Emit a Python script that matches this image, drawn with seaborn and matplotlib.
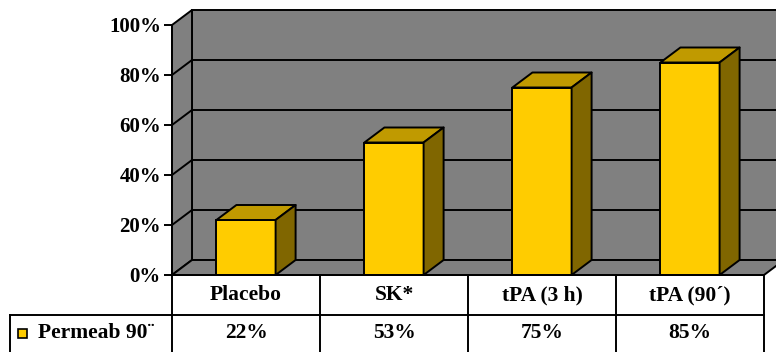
import matplotlib
matplotlib.use("Agg")
import matplotlib.pyplot as plt
import seaborn as sns
import pandas as pd
from matplotlib.patches import Polygon, Rectangle

# ---- data ----
categories = ["Placebo", "SK*", "tPA (3 h)", "tPA (90´)"]
permeab_pct = [22, 53, 75, 85]
series_label = "Permeab 90¨"
y_ticks = [0, 20, 40, 60, 80, 100]

# ---- style ----
BAR_FRONT = "#FFCC00"
BAR_TOP = "#C09A00"
BAR_SIDE = "#806600"
WALL = "#808080"
LW = 1.4

sns.set_theme(style="white")
plt.rcParams["font.family"] = ["Liberation Serif", "DejaVu Serif"]
plt.rcParams["font.weight"] = "bold"

W, H, DPI = 776, 352, 100
fig = plt.figure(figsize=(W / DPI, H / DPI), dpi=DPI)
fig.patch.set_facecolor("white")

# plot box (pixels): x 172..764, value axis 0 at y=275, 100 at y=25
PL, PR, PB, PT = 172, 764, 275, 25
ax = fig.add_axes([PL / W, (H - PB) / H, (PR - PL) / W, (PB - PT) / H])
ax.set_facecolor("none")

df = pd.DataFrame({"cat": categories, "pct": permeab_pct})
sns.barplot(data=df, x="cat", y="pct", color=BAR_FRONT, saturation=1,
            width=0.4, edgecolor="black", linewidth=LW, ax=ax, zorder=3)
bars = list(ax.patches)

ax.set_xlim(-0.5, len(categories) - 0.5)
ax.set_ylim(y_ticks[0], y_ticks[-1])

# depth of the 3-D box, in data units
x_px = (PR - PL) / len(categories)
y_px = (PB - PT) / (y_ticks[-1] - y_ticks[0])
DX = 20 / x_px
DY = 15 / y_px

x_lo, x_hi = ax.get_xlim()
ymax = y_ticks[-1]
wall_kw = dict(closed=True, fc=WALL, ec="black", lw=LW, zorder=0, clip_on=False)
ax.add_patch(Polygon([(x_lo + DX, DY), (x_hi + DX + 1, DY),
                      (x_hi + DX + 1, ymax + DY), (x_lo + DX, ymax + DY)], **wall_kw))
ax.add_patch(Polygon([(x_lo, 0), (x_lo + DX, DY),
                      (x_lo + DX, ymax + DY), (x_lo, ymax)], **wall_kw))
ax.add_patch(Polygon([(x_lo, 0), (x_hi, 0),
                      (x_hi + DX, DY), (x_lo + DX, DY)], **wall_kw))

# gridlines running along the side wall and the back wall
for t in y_ticks[1:-1]:
    ax.plot([x_lo, x_lo + DX, x_hi + DX + 1], [t, t + DY, t + DY],
            color="black", lw=LW, zorder=1, clip_on=False,
            solid_capstyle="butt")

# top and side faces for each column
for p in bars:
    x0, w, h = p.get_x(), p.get_width(), p.get_height()
    ax.add_patch(Polygon([(x0, h), (x0 + w, h), (x0 + w + DX, h + DY), (x0 + DX, h + DY)],
                         closed=True, fc=BAR_TOP, ec="black", lw=LW, zorder=3,
                         joinstyle="round"))
    ax.add_patch(Polygon([(x0 + w, 0), (x0 + w + DX, DY), (x0 + w + DX, h + DY), (x0 + w, h)],
                         closed=True, fc=BAR_SIDE, ec="black", lw=LW, zorder=3,
                         joinstyle="round"))

# axes decoration
ax.set_xticks([])
ax.set_xlabel("")
ax.set_ylabel("")
ax.set_yticks(y_ticks)
ax.set_yticklabels([f"{t}%" for t in y_ticks])
ax.tick_params(axis="y", left=True, length=6, width=LW, pad=2,
               labelsize=15, colors="black")
for lab in ax.get_yticklabels():
    lab.set_fontweight("bold")
for name, sp in ax.spines.items():
    if name == "left":
        sp.set_color("black")
        sp.set_linewidth(LW)
        sp.set_zorder(2)
    else:
        sp.set_visible(False)

# ---- data table under the plot (x in data units, y in axes fraction) ----
tr = ax.get_xaxis_transform()
row_sep = (PB - 315) / (PB - PT)     # line between header and value rows
tab_bot = (PB - 352) / (PB - PT)     # bottom of the value row
label_left = x_lo - (PL - 10) / x_px  # left edge of the series-label cell
line_kw = dict(color="black", lw=LW, transform=tr, clip_on=False, zorder=5,
               solid_capstyle="projecting")

ax.plot([x_lo, x_hi], [0, 0], **line_kw)
ax.plot([label_left, x_hi], [row_sep, row_sep], **line_kw)
for j in range(len(categories) + 1):
    ax.plot([x_lo + j, x_lo + j], [0, tab_bot], **line_kw)
ax.plot([label_left, label_left], [row_sep, tab_bot], **line_kw)

head_y = row_sep / 2
val_y = (row_sep + tab_bot) / 2
txt_kw = dict(transform=tr, ha="center", va="center", fontsize=15.5,
              fontweight="bold", color="black", clip_on=False)
for j, (cat, v) in enumerate(zip(categories, permeab_pct)):
    ax.text(j, head_y, cat, **txt_kw)
    ax.text(j, val_y, f"{v}%", **txt_kw)

# series label with its legend key
key_w = 9 / x_px
key_x = label_left + 8 / x_px
key_h = 9 / (PB - PT)
ax.add_patch(Rectangle((key_x, val_y - key_h / 2), key_w, key_h, transform=tr,
                       fc=BAR_FRONT, ec="black", lw=1.2, zorder=10, clip_on=False))
ax.text(label_left + 28 / x_px, val_y, series_label, transform=tr, ha="left",
        va="center", fontsize=15.5, fontweight="bold", color="black", clip_on=False)

fig.savefig("out.png", dpi=DPI, facecolor="white")
